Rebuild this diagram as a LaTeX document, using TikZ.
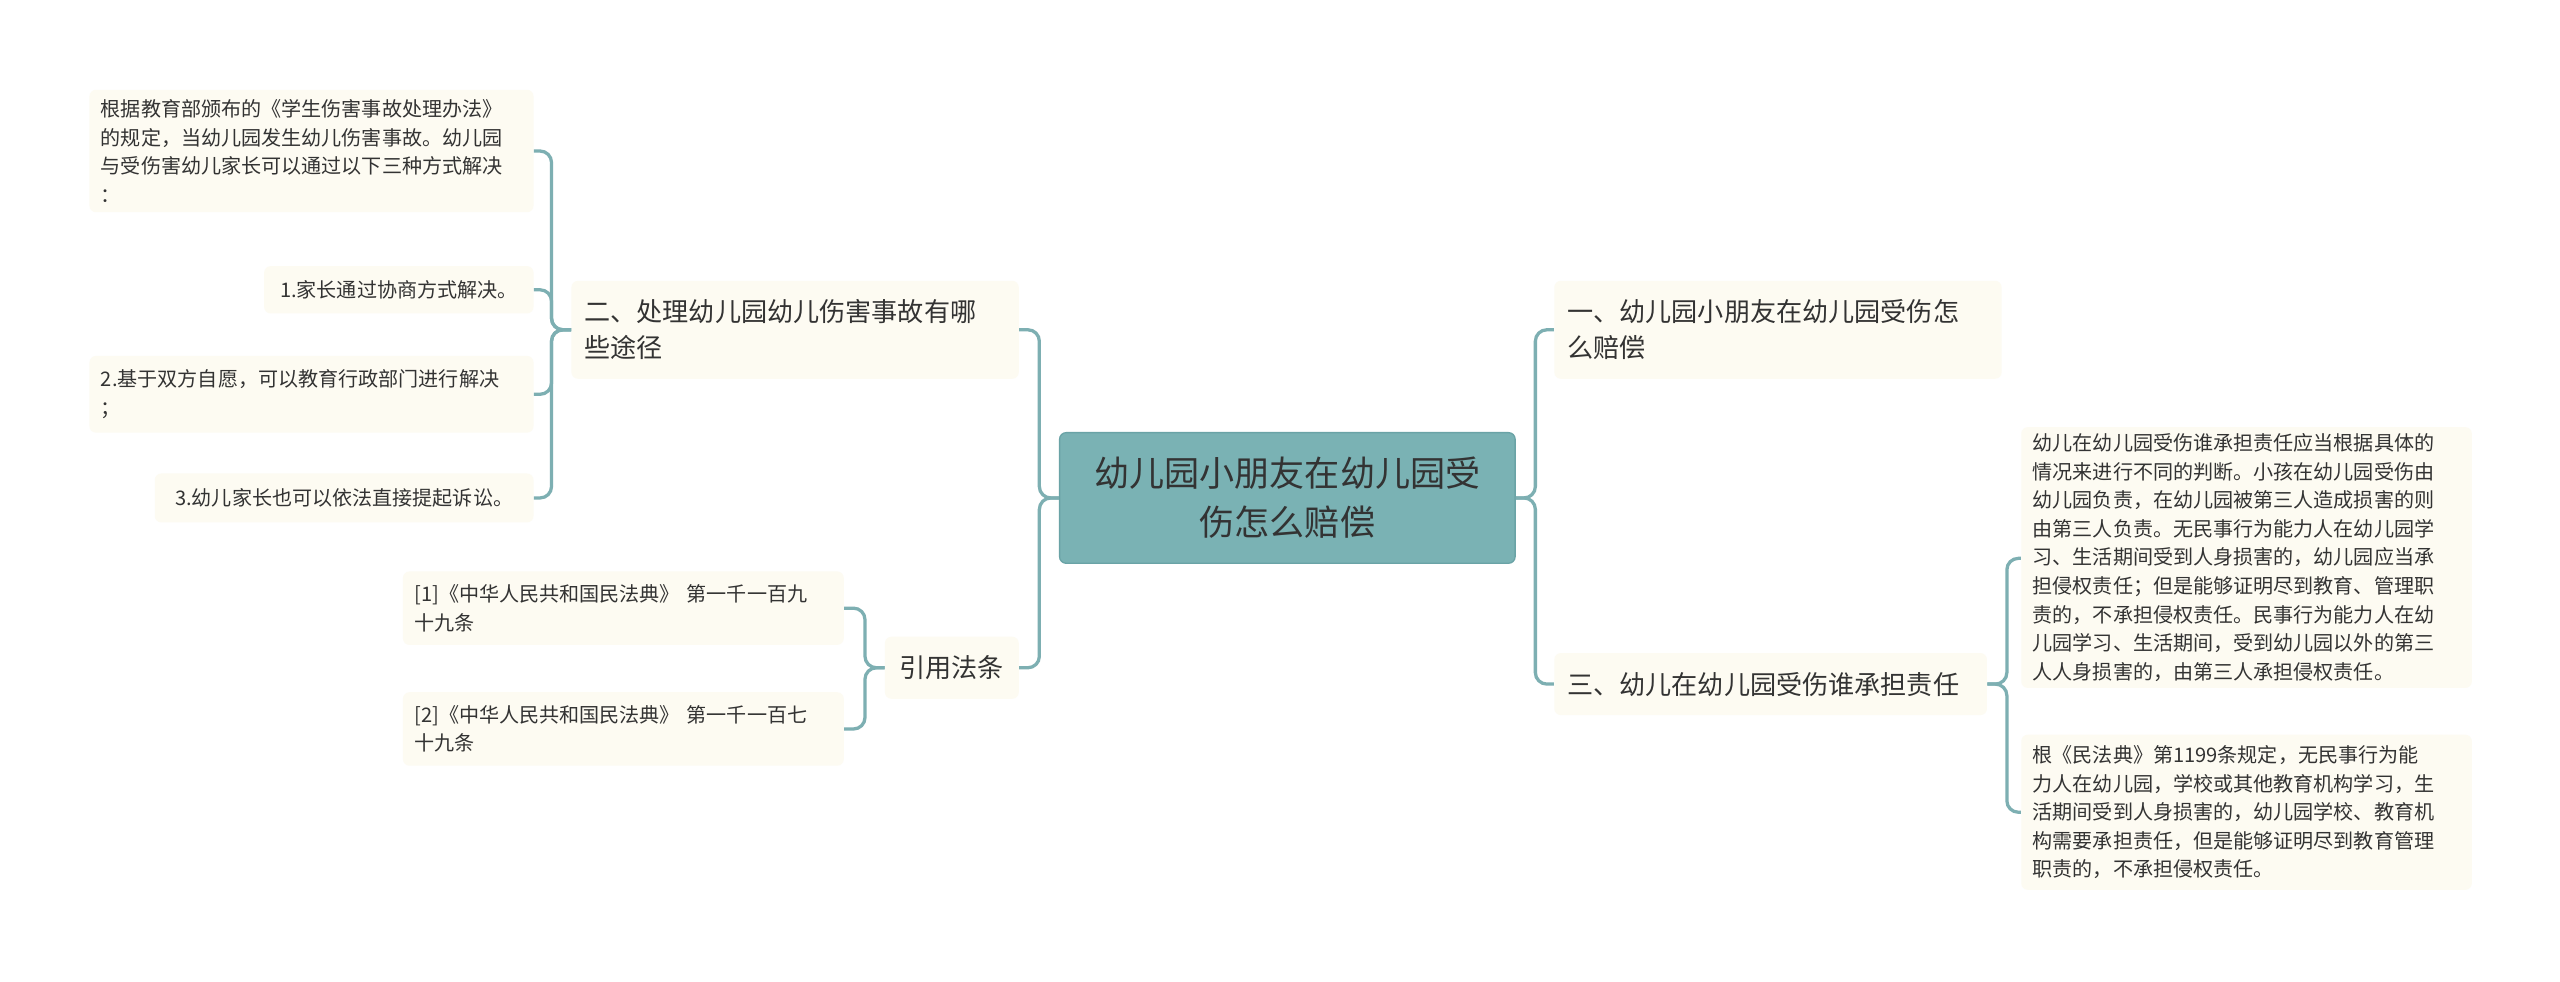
\documentclass[tikz,border=0pt]{standalone}
\usepackage{fontspec}
\setmainfont{Noto Sans CJK SC}
\begin{document}
\begin{tikzpicture}[x=1pt,y=-1pt,
  box/.style={rounded corners=4pt,inner xsep=7pt,inner ysep=4pt,text=black!80,align=left},
  leaf/.style={box,fill=leafbg,font=\fontsize{12.3}{17.5}\selectfont},
  branch/.style={box,fill=leafbg,font=\fontsize{16}{22}\selectfont},
  rootbox/.style={box,fill=rootbg,draw=rootbd,line width=0.8pt,align=center,font=\fontsize{21.5}{30}\selectfont},
  conn/.style={draw=linec,line width=2pt,rounded corners=7pt}]
\definecolor{leafbg}{HTML}{FDFBF2}
\definecolor{rootbg}{HTML}{7AB2B4}
\definecolor{rootbd}{HTML}{6AA3A6}
\definecolor{linec}{HTML}{7DAFB2}
\useasboundingbox[fill=white] (0,0) rectangle (1568,601);
\node[rootbox,minimum width=279,minimum height=80] (root) at (788.5,305) {幼儿园小朋友在幼儿园受\\伤怎么赔偿};
% right
\node[branch,minimum width=274,minimum height=60,text width=258] (b1) at (1089,202) {一、幼儿园小朋友在幼儿园受伤怎\\么赔偿};
\node[branch,minimum width=265,minimum height=38,text width=249] (b3) at (1084.5,419) {三、幼儿在幼儿园受伤谁承担责任};
\node[leaf,minimum width=276,minimum height=157,text width=262] (r1) at (1376,341.5) {幼儿在幼儿园受伤谁承担责任应当根据具体的\\情况来进行不同的判断。小孩在幼儿园受伤由\\幼儿园负责，在幼儿园被第三人造成损害的则\\由第三人负责。无民事行为能力人在幼儿园学\\习、生活期间受到人身损害的，幼儿园应当承\\担侵权责任；但是能够证明尽到教育、管理职\\责的，不承担侵权责任。民事行为能力人在幼\\儿园学习、生活期间，受到幼儿园以外的第三\\人人身损害的，由第三人承担侵权责任。};
\node[leaf,minimum width=276,minimum height=95,text width=262] (r2) at (1376,497.5) {根《民法典》第1199条规定，无民事行为能\\力人在幼儿园，学校或其他教育机构学习，生\\活期间受到人身损害的，幼儿园学校、教育机\\构需要承担责任，但是能够证明尽到教育管理\\职责的，不承担侵权责任。};
% left
\node[branch,minimum width=274,minimum height=60,text width=258] (b2) at (487,202) {二、处理幼儿园幼儿伤害事故有哪\\些途径};
\node[branch,minimum width=82,minimum height=38] (b4) at (583,409) {引用法条};
\node[leaf,anchor=east,minimum width=272,minimum height=75,text width=258] (la) at (327,92.5) {根据教育部颁布的《学生伤害事故处理办法》\\的规定，当幼儿园发生幼儿伤害事故。幼儿园\\与受伤害幼儿家长可以通过以下三种方式解决\\：};
\node[leaf,anchor=east,minimum width=165,minimum height=29] (lb) at (327,177.5) {1.家长通过协商方式解决。};
\node[leaf,anchor=east,minimum width=272,minimum height=47,text width=258] (lc) at (327,241.5) {2.基于双方自愿，可以教育行政部门进行解决\\；};
\node[leaf,anchor=east,minimum width=232,minimum height=30] (ld) at (327,305) {3.幼儿家长也可以依法直接提起诉讼。};
\node[leaf,anchor=east,minimum width=270,minimum height=45,text width=256] (l1) at (517,372.5) {[1]《中华人民共和国民法典》 第一千一百九\\十九条};
\node[leaf,anchor=east,minimum width=270,minimum height=45,text width=256] (l2) at (517,446.5) {[2]《中华人民共和国民法典》 第一千一百七\\十九条};
% connectors
\foreach \c in {b1,b3} \draw[conn] (root.east) -- ++(12,0) |- (\c.west);
\foreach \c in {b2,b4} \draw[conn] (root.west) -- ++(-12,0) |- (\c.east);
\draw[conn] (b3.east) -- ++(12,0) |- ([yshift=-0.5]r1.west);
\draw[conn] (b3.east) -- ++(12,0) |- (r2.west);
\foreach \c in {la,lb,lc,ld} \draw[conn] (b2.west) -- ++(-12,0) |- (\c.east);
\foreach \c in {l1,l2} \draw[conn] (b4.west) -- ++(-12,0) |- (\c.east);
\end{tikzpicture}
\end{document}
